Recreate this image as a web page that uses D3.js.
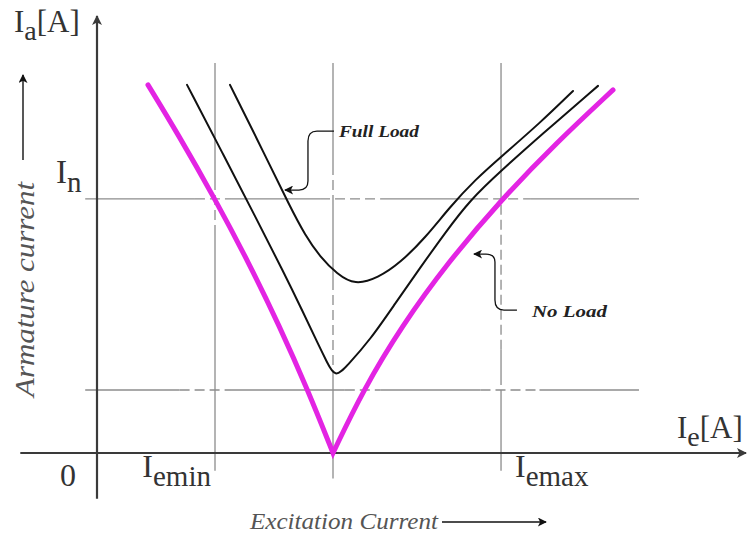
<!DOCTYPE html>
<html><head><meta charset="utf-8">
<script src="https://cdn.jsdelivr.net/npm/d3@7"></script>
<style>
html,body{margin:0;padding:0;background:#fff;}
svg{display:block;}
svg text{font-family:"Liberation Serif","Times New Roman","DejaVu Serif",serif;}
</style></head><body>
<svg id="chart" width="748" height="541"></svg>
<script>
// Excitation current reference values (multiples of the Iemin spacing)
const xMarks = [
  {value: 1.0,   base: "I", sub: "emin", side: "left",  dashZones: [[0.858, 1.035]]},
  {value: 2.0,   base: null, sub: null,                 dashZones: [[0.976, 1.114], [0.287, 0.642]]},
  {value: 3.424, base: "I", sub: "emax", side: "right", dashZones: [[0.406, 0.996], [0.209, 0.287]]}
];
// Armature current reference levels (rated current In = 1)
const yMarks = [
  {value: 1.0,   base: "I", sub: "n", dashZones: [[0.83, 1.144], [1.89, 2.40], [3.23, 3.67]]},
  {value: 0.248, base: null, sub: null, dashZones: [[0.70, 1.144], [2.10, 2.40], [3.25, 3.75]]}
];

// V-curves, points are [excitation current, armature current]
const noLoadLeft  = [[0.432,1.449],[0.680,1.260],[1.0,1.0],[1.287,0.748],[1.546,0.5],[1.786,0.248],[2.0,0]];
const noLoadRight = [[2.0,0],[2.256,0.248],[2.583,0.5],[2.970,0.748],[3.432,1.0],[3.891,1.220],[4.373,1.429]];
const partLoad = [[0.763,1.449],[1.059,1.185],[1.356,0.917],[1.576,0.717],[1.746,0.555],[1.873,0.429],[1.949,0.358],[2.017,0.295],[2.119,0.343],[2.314,0.445],[2.525,0.587],[2.737,0.728],[2.949,0.866],[3.161,0.996],[3.432,1.114],[3.754,1.248],[4.246,1.445]];
const fullLoad = [[1.127,1.449],[1.415,1.181],[1.636,0.969],[1.763,0.858],[1.890,0.772],[2.034,0.705],[2.186,0.661],[2.381,0.689],[2.568,0.748],[2.780,0.846],[2.992,0.969],[3.203,1.075],[3.432,1.169],[3.754,1.299],[4.034,1.425]];

// Callout labels and the curve point each one points at
const callouts = [
  {text: "Full Load", at: [1.576, 1.035]},
  {text: "No Load",   at: [3.22, 0.83]}
];

const svg = d3.select("#chart");
const x = d3.scaleLinear().domain([0, 5.5]).range([97, 746]);
const y = d3.scaleLinear().domain([0, 1.72]).range([453, 16]);

const refColor = "#8c8c8c";
const axisColor = "#3a3a3a";

const defs = svg.append("defs");
function marker(id, color, w, h) {
  defs.append("marker").attr("id", id)
    .attr("viewBox", "0 0 10 10").attr("refX", 9).attr("refY", 5)
    .attr("markerWidth", w).attr("markerHeight", h)
    .attr("markerUnits", "userSpaceOnUse")
    .attr("orient", "auto")
    .append("path").attr("d", "M0,0 L10,5 L0,10 L2.5,5 Z").attr("fill", color);
}
marker("arrAxis", axisColor, 12, 10);
marker("arrSmall", "#111", 12, 9);

// Split a reference line into solid and dashed stretches
function pieces(from, to, zones) {
  const out = [];
  let cur = from;
  zones.slice().sort((a, b) => a[0] - b[0]).forEach(([a, b]) => {
    if (a > cur) out.push({a: cur, b: a, dashed: false});
    out.push({a: Math.max(a, cur), b: b, dashed: true});
    cur = b;
  });
  if (cur < to) out.push({a: cur, b: to, dashed: false});
  return out;
}

const refG = svg.append("g").attr("stroke", refColor).attr("stroke-width", 1.3);
xMarks.forEach(m => {
  const yEnd = m.value === 2.0 ? -0.1 : -0.07;
  pieces(yEnd, 1.535, m.dashZones).forEach(p => {
    refG.append("line")
      .attr("x1", x(m.value)).attr("x2", x(m.value))
      .attr("y1", y(p.a)).attr("y2", y(p.b))
      .attr("stroke-dasharray", p.dashed ? "10,5" : null);
  });
});
yMarks.forEach(m => {
  pieces(-0.1, 4.593, m.dashZones).forEach(p => {
    refG.append("line")
      .attr("x1", x(p.a)).attr("x2", x(p.b))
      .attr("y1", y(m.value)).attr("y2", y(m.value))
      .attr("stroke-dasharray", p.dashed ? "10,5" : null);
  });
});

// Axes
svg.append("line")
  .attr("x1", x(0)).attr("x2", x(0))
  .attr("y1", y(-0.18)).attr("y2", y(1.72))
  .attr("stroke", axisColor).attr("stroke-width", 2.2)
  .attr("marker-end", "url(#arrAxis)");
svg.append("line")
  .attr("x1", x(-0.65)).attr("x2", x(5.5))
  .attr("y1", y(0)).attr("y2", y(0))
  .attr("stroke", axisColor).attr("stroke-width", 2.2)
  .attr("marker-end", "url(#arrAxis)");

// Curves
const smooth = d3.line().x(d => x(d[0])).y(d => y(d[1])).curve(d3.curveBasis);
svg.append("path")
  .attr("d", smooth(noLoadLeft) + smooth(noLoadRight).replace(/^M/, "L"))
  .attr("fill", "none").attr("stroke", "#e324e3").attr("stroke-width", 5)
  .attr("stroke-linejoin", "miter").attr("stroke-linecap", "round");
[partLoad, fullLoad].forEach(c => {
  svg.append("path").attr("d", smooth(c))
    .attr("fill", "none").attr("stroke", "#111").attr("stroke-width", 2)
    .attr("stroke-linecap", "round");
});

// Callouts
const fl = callouts[0], nl = callouts[1];
{
  const tx = x(fl.at[0]) + 2, ty = y(fl.at[1]);
  const p = d3.path();
  p.moveTo(tx + 49, ty - 59);
  p.lineTo(tx + 32, ty - 59);
  p.quadraticCurveTo(tx + 23, ty - 59, tx + 23, ty - 49);
  p.lineTo(tx + 23, ty - 9);
  p.quadraticCurveTo(tx + 23, ty, tx + 14, ty);
  p.lineTo(tx, ty);
  svg.append("path").attr("d", p.toString()).attr("fill", "none")
    .attr("stroke", "#111").attr("stroke-width", 1.3).attr("marker-end", "url(#arrSmall)");
  svg.append("text").attr("x", tx + 54).attr("y", ty - 53)
    .attr("font-style", "italic").attr("font-weight", "bold")
    .attr("font-size", 17).attr("fill", "#222")
    .attr("textLength", 80).attr("lengthAdjust", "spacingAndGlyphs").text(fl.text);
}
{
  const tx = x(nl.at[0]) - 3, ty = y(nl.at[1]) + 12;
  const p = d3.path();
  p.moveTo(tx + 43, ty + 56);
  p.lineTo(tx + 30, ty + 56);
  p.quadraticCurveTo(tx + 21, ty + 56, tx + 21, ty + 46);
  p.lineTo(tx + 21, ty + 8);
  p.quadraticCurveTo(tx + 21, ty, tx + 12, ty);
  p.lineTo(tx, ty);
  svg.append("path").attr("d", p.toString()).attr("fill", "none")
    .attr("stroke", "#111").attr("stroke-width", 1.3).attr("marker-end", "url(#arrSmall)");
  svg.append("text").attr("x", tx + 58).attr("y", ty + 63)
    .attr("font-style", "italic").attr("font-weight", "bold")
    .attr("font-size", 17).attr("fill", "#222")
    .attr("textLength", 75).attr("lengthAdjust", "spacingAndGlyphs").text(nl.text);
}

// Subscripted labels
function subLabel(xp, yp, base, sub, anchor, size, subSize) {
  const t = svg.append("text").attr("x", xp).attr("y", yp)
    .attr("font-size", size).attr("fill", "#333")
    .attr("text-anchor", anchor);
  t.append("tspan").text(base);
  t.append("tspan").attr("dy", size * 0.27).attr("font-size", subSize).text(sub);
  return t;
}

xMarks.filter(d => d.base).forEach(d => {
  if (d.side === "left") subLabel(x(d.value) - 4, 477, d.base, d.sub, "end", 32, 29);
  else subLabel(x(d.value) + 14, 477, d.base, d.sub, "start", 32, 29);
});
yMarks.filter(d => d.base).forEach(d => {
  subLabel(56, y(d.value) - 16, d.base, d.sub, "start", 33, 29);
});
svg.append("text").attr("x", 68).attr("y", 486).attr("text-anchor", "middle")
  .attr("font-size", 32).attr("fill", "#333").text("0");

// Axis titles with units
{
  const t = subLabel(14, 32, "I", "a", "start", 31, 28);
  t.append("tspan").attr("dy", -31 * 0.27).attr("font-size", 31).text("[A]");
}
{
  const t = subLabel(677, 438, "I", "e", "start", 31, 28);
  t.append("tspan").attr("dy", -31 * 0.27).attr("font-size", 31).text("[A]");
}

// Quantity names
svg.append("text")
  .attr("transform", "translate(34,397) rotate(-90)")
  .attr("font-style", "italic").attr("font-size", 28)
  .attr("fill", "#555").attr("textLength", 215).attr("lengthAdjust", "spacingAndGlyphs")
  .text("Armature current");
svg.append("line").attr("x1", 23).attr("x2", 23).attr("y1", 160).attr("y2", 75)
  .attr("stroke", "#111").attr("stroke-width", 1.4).attr("marker-end", "url(#arrSmall)");

svg.append("text").attr("x", 250).attr("y", 529)
  .attr("font-style", "italic").attr("font-size", 23)
  .attr("fill", "#555").attr("textLength", 188).attr("lengthAdjust", "spacingAndGlyphs")
  .text("Excitation Current");
svg.append("line").attr("x1", 442).attr("x2", 546).attr("y1", 522).attr("y2", 522)
  .attr("stroke", "#111").attr("stroke-width", 1.4).attr("marker-end", "url(#arrSmall)");
</script>
</body></html>
